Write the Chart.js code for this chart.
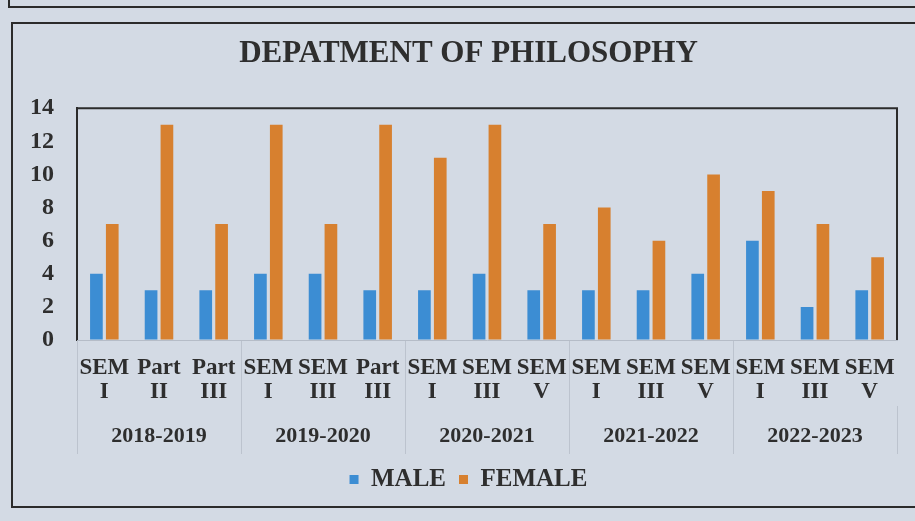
<!DOCTYPE html>
<html>
<head>
<meta charset="utf-8">
<script src="https://cdn.jsdelivr.net/npm/chart.js@4.4.0/dist/chart.umd.min.js"></script>
<style>
  html, body { margin: 0; padding: 0; background: #d3dae4; width: 915px; height: 521px; overflow: hidden; }
  #wrap { position: absolute; left: 0; top: 0; width: 915px; height: 521px; }
  #card { position: absolute; left: 11px; top: 22px; width: 912px; height: 486px; border: 2px solid #2b2b2b; box-sizing: border-box; }
  #prev { position: absolute; left: 8px; top: -20px; width: 912px; height: 28px; border: 2px solid #2b2b2b; box-sizing: border-box; }
</style>
</head>
<body>
<div id="prev"></div>
<div id="card"></div>
<div id="wrap"><canvas id="c" width="915" height="521"></canvas></div>
<script>
const categories = [
  ["SEM","I"],["Part","II"],["Part","III"],
  ["SEM","I"],["SEM","III"],["Part","III"],
  ["SEM","I"],["SEM","III"],["SEM","V"],
  ["SEM","I"],["SEM","III"],["SEM","V"],
  ["SEM","I"],["SEM","III"],["SEM","V"]
];
const years = ["2018-2019","2019-2020","2020-2021","2021-2022","2022-2023"];
const male   = [4,3,3,4,4,3,3,4,3,3,3,4,6,2,3];
const female = [7,13,7,13,7,13,11,13,7,8,6,10,9,7,5];
const yTicks = [0,2,4,6,8,10,12,14];

const FONT = "'Liberation Serif', 'Times New Roman', serif";
const TXT = '#2e2e2e';
const SEP = '#bcc3ce';

const frame = {
  id: 'frame',
  afterDatasetsDraw(chart) {
    const a = chart.chartArea, g = chart.ctx;
    g.save();
    g.strokeStyle = '#2b2b2b';
    g.lineWidth = 2;
    g.beginPath();
    g.moveTo(a.left, a.top);
    g.lineTo(a.right, a.top);
    g.lineTo(a.right, a.bottom);
    g.stroke();
    g.restore();
  }
};

new Chart(document.getElementById('c'), {
  type: 'bar',
  data: {
    labels: categories,
    datasets: [
      { label: 'MALE', data: male, backgroundColor: '#3c8dd3', xAxisID: 'x', yAxisID: 'y', categoryPercentage: 0.58, barPercentage: 0.8 },
      { label: 'FEMALE', data: female, backgroundColor: '#d7802f', xAxisID: 'x', yAxisID: 'y', categoryPercentage: 0.58, barPercentage: 0.8 }
    ]
  },
  options: {
    responsive: false,
    animation: false,
    layout: { padding: { left: 22, right: 0, top: 10, bottom: 19 } },
    plugins: {
      title: {
        display: true,
        text: 'DEPATMENT OF PHILOSOPHY',
        color: TXT,
        font: { family: FONT, size: 31, weight: 'bold' },
        padding: { top: 25, bottom: 36 }
      },
      legend: {
        position: 'bottom',
        labels: {
          color: TXT,
          font: { family: FONT, size: 25, weight: 'bold' },
          boxWidth: 9, boxHeight: 9, padding: 13
        }
      },
      tooltip: { enabled: false }
    },
    scales: {
      y: {
        position: 'left',
        min: 0, max: 14,
        afterFit(s) { s.width = 55; },
        afterBuildTicks(s) { s.ticks = yTicks.map(v => ({ value: v })); },
        ticks: { color: TXT, font: { family: FONT, size: 24, weight: 'bold' }, padding: 23, autoSkip: false },
        grid: { display: true, drawOnChartArea: false, drawTicks: false },
        border: { display: true, color: '#2b2b2b', width: 2 }
      },
      y2: {
        position: 'right',
        display: true,
        afterFit(s) { s.width = 18; },
        ticks: { display: false },
        grid: { display: false },
        border: { display: false }
      },
      x: {
        position: 'bottom',
        afterFit(s) { s.height = 66; },
        ticks: { color: TXT, font: { family: FONT, size: 23, weight: 'bold', lineHeight: 1.05 }, padding: -50, maxRotation: 0, autoSkip: false },
        grid: {
          drawOnChartArea: false, offset: true, tickLength: 66,
          color: (ctx) => (ctx.index % 3 === 0 ? SEP : 'rgba(0,0,0,0)')
        },
        border: { display: true, color: '#b5bcc7', width: 1 }
      },
      x2: {
        type: 'category',
        position: 'bottom',
        labels: years,
        offset: true,
        afterFit(s) { s.height = 48; },
        ticks: { color: TXT, font: { family: FONT, size: 22, weight: 'bold' }, padding: -31, maxRotation: 0, autoSkip: false },
        grid: { drawOnChartArea: false, offset: true, tickLength: 48, color: SEP },
        border: { display: false }
      }
    }
  },
  plugins: [frame]
});
</script>
</body>
</html>
